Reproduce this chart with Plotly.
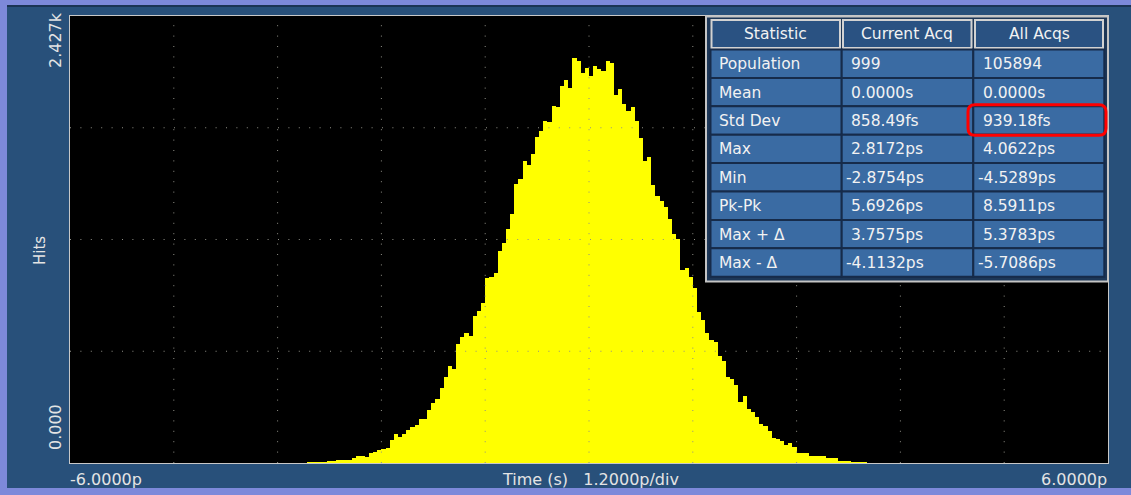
import numpy as np
import plotly.graph_objects as go

# ---------------- data ----------------
X_MIN_PS, X_MAX_PS = -6.0, 6.0          # horizontal range, ps
N_BINS = 250                            # histogram bins across the range
FIRST_BIN = 57                          # index of first bin listed in `hits`
Y_MAX_HITS = 2427                       # top of vertical scale

hits = [3, 4, 4, 5, 5, 6, 9, 16, 16, 16, 18, 25, 38, 38, 31, 53, 61, 69, 76, 83,
        125, 156, 143, 156, 179, 195, 206, 239, 239, 288, 324, 346, 409, 469, 527, 509,
        645, 686, 708, 690, 798, 827, 870, 1003, 1010, 1030, 1150, 1196, 1269, 1352,
        1513, 1540, 1640, 1618, 1676, 1772, 1803, 1857, 1850, 1940, 1935, 2047, 2080,
        2035, 2198, 2185, 2116, 2143, 2101, 2156, 2138, 2130, 2183, 2170, 1998, 2029,
        1949, 1913, 1931, 1859, 1766, 1640, 1660, 1510, 1450, 1423, 1392, 1323, 1243,
        1215, 1048, 1057, 1012, 949, 822, 776, 708, 668, 655, 581, 555, 469, 456, 424,
        329, 364, 293, 279, 252, 210, 201, 175, 134, 129, 119, 98, 107, 85, 56, 56, 53,
        38, 38, 38, 38, 25, 25, 25, 11, 11, 11, 4, 4, 4, 4]

y_top_label = "2.427k"
y_bottom_label = "0.000"
y_title = "Hits"
x_left_label = "-6.0000p"
x_right_label = "6.0000p"
x_title = "Time (s)"
x_scale = "1.2000p/div"

table_headers = ["Statistic", "Current Acq", "All Acqs"]
stat_names = ["Population", "Mean", "Std Dev", "Max", "Min", "Pk-Pk", "Max + Δ", "Max - Δ"]
current_acq = ["999", "0.0000s", "858.49fs", "2.8172ps", "-2.8754ps", "5.6926ps", "3.7575ps", "-4.1132ps"]
all_acqs = ["105894", "0.0000s", "939.18fs", "4.0622ps", "-4.5289ps", "8.5911ps", "5.3783ps", "-5.7086ps"]
highlight_row, highlight_col = 2, 2

# ---------------- layout constants ----------------
W, H = 1131, 495
PL, PR, PT, PB = 70, 1108, 16, 463
BG = "#28507A"
LAV = "#7D89DA"
TXT = "#E4E4E4"
FONT = "DejaVu Sans"


def fx(px):
    return (px - PL) / (PR - PL)


def fy(py):
    return (PB - py) / (PB - PT)


bin_w = (X_MAX_PS - X_MIN_PS) / N_BINS
bin_idx = FIRST_BIN + np.arange(len(hits))
centers = X_MIN_PS + (bin_idx + 0.5) * bin_w

fig = go.Figure()
fig.add_trace(go.Bar(x=centers, y=hits, width=bin_w,
                     marker=dict(color="#FFFF00", line=dict(width=0)),
                     hoverinfo="skip", showlegend=False))

shapes = []


def rect(x0, y0, x1, y1, fill=None, line_color=None, lw=0, layer="above"):
    d = dict(type="rect", xref="paper", yref="paper",
             x0=fx(x0), x1=fx(x1), y0=fy(y1), y1=fy(y0), layer=layer,
             line=dict(width=lw, color=line_color or "rgba(0,0,0,0)"))
    if fill:
        d["fillcolor"] = fill
    shapes.append(d)


# frame
rect(0, 0, 7, H, fill=LAV)
rect(0, 0, W, 5, fill=LAV)
rect(7, 5, W, 7, fill="#1B3454")
rect(0, 488, W, H, fill=LAV)

# dotted graticule (drawn above the histogram)
GRID = "#8F8F86"
for k in range(1, 10):
    xv = X_MIN_PS + k * (X_MAX_PS - X_MIN_PS) / 10
    shapes.append(dict(type="line", xref="x", yref="y", x0=xv, x1=xv, y0=0, y1=Y_MAX_HITS,
                       layer="above", line=dict(color=GRID, width=1, dash="1px,9.4px")))
for k in range(1, 4):
    yv = Y_MAX_HITS * k / 4
    shapes.append(dict(type="line", xref="x", yref="y", x0=X_MIN_PS, x1=X_MAX_PS, y0=yv, y1=yv,
                       layer="above", line=dict(color=GRID, width=1, dash="1px,9.4px")))

# statistics table
rect(706, 16.5, 1108, 281.5, fill="#1D3757", line_color="#C4C4C4", lw=2)
hdr_x = [(711.5, 840), (843, 971.5), (975, 1103)]
for (a, b) in hdr_x:
    rect(a, 20, b, 48, fill="#2A5282", line_color="#D2D2D2", lw=2)
col_x = [710.5, 841.7, 973.3, 1104.3]
row_top = 49.5
row_h = 28.4
for r in range(len(stat_names)):
    for c in range(3):
        rect(col_x[c], row_top + r * row_h, col_x[c + 1], row_top + (r + 1) * row_h,
             fill="#3A6BA3", line_color="#162B4A", lw=2)

# red highlight (rounded)
hx0, hx1 = 968, 1106
hy0 = row_top + highlight_row * row_h - 1.5
hy1 = row_top + (highlight_row + 1) * row_h + 0.5
rr = 7


def P(x, y):
    return f"{fx(x):.6f},{fy(y):.6f}"


path = (f"M {P(hx0 + rr, hy0)} L {P(hx1 - rr, hy0)} Q {P(hx1, hy0)} {P(hx1, hy0 + rr)} "
        f"L {P(hx1, hy1 - rr)} Q {P(hx1, hy1)} {P(hx1 - rr, hy1)} "
        f"L {P(hx0 + rr, hy1)} Q {P(hx0, hy1)} {P(hx0, hy1 - rr)} "
        f"L {P(hx0, hy0 + rr)} Q {P(hx0, hy0)} {P(hx0 + rr, hy0)} Z")
shapes.append(dict(type="path", xref="paper", yref="paper", path=path, layer="above",
                   line=dict(color="#FF0000", width=3)))

ann = []


def text(s, x, y, xa="center", ya="middle", angle=0, size=16, color=TXT):
    ann.append(dict(text=s, xref="paper", yref="paper", x=fx(x), y=fy(y),
                    xanchor=xa, yanchor=ya, textangle=angle, showarrow=False,
                    font=dict(family=FONT, size=size, color=color)))


# axis texts
text(y_top_label, 55, 10, ya="top", angle=-90)
text(y_bottom_label, 55, 452, ya="bottom", angle=-90)
text(y_title, 40, 251, angle=-90, size=15)
text(x_left_label, 68, 479, xa="left")
text(x_right_label, 1109, 479, xa="right")
text(x_title + "\u00a0\u00a0\u00a0" + x_scale, 590, 479)

# table texts
NB = "\u00a0"
for c, h in enumerate(table_headers):
    a, b = hdr_x[c]
    text(h, (a + b) / 2, 34.5, size=15.5, color="#F2F2F2")
for r in range(len(stat_names)):
    yc = row_top + (r + 0.5) * row_h + 0.5
    text(stat_names[r], col_x[0] + 6, yc, xa="left", size=15.5, color="#F2F2F2")
    for c, vals in ((1, current_acq), (2, all_acqs)):
        v = vals[r]
        s = v if v.startswith("-") else NB + v
        text(s, col_x[c] + 2.5, yc, xa="left", size=15.5, color="#F2F2F2")

fig.update_layout(
    width=W, height=H, autosize=False,
    margin=dict(l=PL, r=W - PR, t=PT, b=H - PB, pad=0),
    paper_bgcolor=BG, plot_bgcolor="#000000",
    bargap=0, showlegend=False,
    shapes=shapes, annotations=ann,
    xaxis=dict(range=[X_MIN_PS, X_MAX_PS], showgrid=False, zeroline=False,
               showticklabels=False, ticks="", showline=True, mirror=True,
               linecolor="#C8C8C8", linewidth=1, fixedrange=True),
    yaxis=dict(range=[0, Y_MAX_HITS], showgrid=False, zeroline=False,
               showticklabels=False, ticks="", showline=True, mirror=True,
               linecolor="#C8C8C8", linewidth=1, fixedrange=True),
)

fig.write_html("out.html", config={"displayModeBar": False},
               post_script="document.body.style.margin='0';document.body.style.overflow='hidden';")
